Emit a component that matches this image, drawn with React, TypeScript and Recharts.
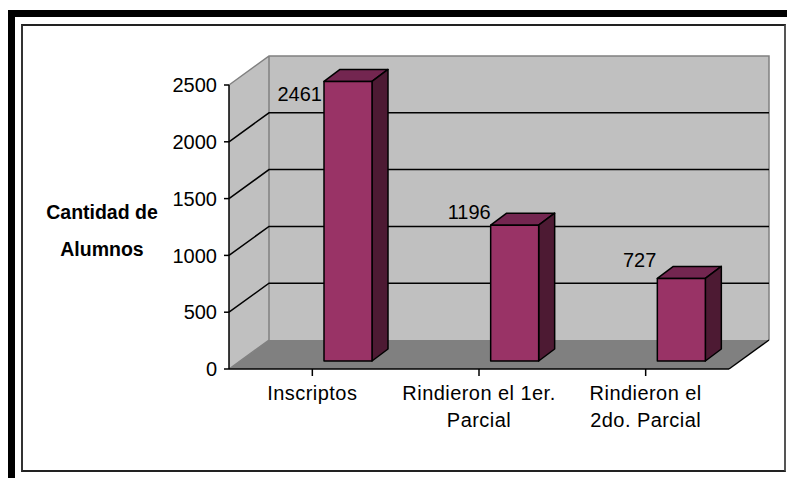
import { Bar, BarChart, CartesianGrid, Customized, LabelList, XAxis, YAxis, usePlotArea } from "recharts";

const CATEGORIES = ["Inscriptos", "Rindieron el 1er.\nParcial", "Rindieron el\n2do. Parcial"];
const ALUMNOS = [2461, 1196, 727];
const Y_TICKS = [0, 500, 1000, 1500, 2000, 2500];

const rows = CATEGORIES.map((name, i) => ({ name, alumnos: ALUMNOS[i] }));

const FONT = "'Liberation Sans', Arial, sans-serif";
const WALL = "#c0c0c0";
const FLOOR = "#808080";
const FRONT = "#993366";
const TOP = "#732650";
const SIDE = "#4d1a33";

// depth of the fake 3D box
const DEPTH_X = 40;
const DEPTH_Y = 29;
// how far the bars sit inside the box, and how deep they are
const BAR_SHIFT_X = 36;
const BAR_SHIFT_Y = 8;
const BAR_DEPTH_X = 16;
const BAR_DEPTH_Y = 12;

// nudges for the value labels, which were hand placed in the original
const LABEL_NUDGE = [
  { dx: 34, dy: 12 },
  { dx: 36, dy: -14 },
  { dx: 35, dy: -19 },
];

function Walls() {
  const plot = usePlotArea();
  if (!plot) return null;
  const { x, y, width, height } = plot;
  const b = y + height;
  const r = x + width;
  return (
    <g>
      <path d={`M${x},${y} L${x + DEPTH_X},${y - DEPTH_Y} V${b - DEPTH_Y} L${x},${b} Z`} fill={WALL} />
      <rect x={x + DEPTH_X} y={y - DEPTH_Y} width={width} height={height} fill={WALL} />
      <path
        d={`M${x},${b} L${x + DEPTH_X},${b - DEPTH_Y} H${r + DEPTH_X} L${r},${b} Z`}
        fill={FLOOR}
      />
      <path
        d={`M${x},${y} L${x + DEPTH_X},${y - DEPTH_Y} H${r + DEPTH_X} V${b - DEPTH_Y} M${x + DEPTH_X},${y - DEPTH_Y} V${b - DEPTH_Y} L${x},${b}`}
        fill="none"
        stroke="#808080"
        strokeWidth={1.5}
      />
      <path d={`M${r + DEPTH_X},${b - DEPTH_Y} L${r},${b}`} fill="none" stroke="#000" strokeWidth={1.5} />
    </g>
  );
}

function GridLine(props: any) {
  const { x1, x2, y1, index } = props;
  // bottom and top ticks are the edges of the box
  if (y1 <= 86 || y1 >= 368) return <g key={index} />;
  return (
    <path
      key={index}
      d={`M${x1},${y1} L${x1 + DEPTH_X},${y1 - DEPTH_Y} H${x2 + DEPTH_X}`}
      fill="none"
      stroke="#000"
      strokeWidth={1.5}
    />
  );
}

function Box3D(props: any) {
  const { x, y, width, height } = props;
  const l = x + BAR_SHIFT_X;
  const t = y - BAR_SHIFT_Y;
  const r = l + width;
  const b = t + height;
  return (
    <g stroke="#000" strokeWidth={1.5} strokeLinejoin="round">
      <path d={`M${l},${t} L${l + BAR_DEPTH_X},${t - BAR_DEPTH_Y} H${r + BAR_DEPTH_X} L${r},${t} Z`} fill={TOP} />
      <path d={`M${r},${t} L${r + BAR_DEPTH_X},${t - BAR_DEPTH_Y} V${b - BAR_DEPTH_Y} L${r},${b} Z`} fill={SIDE} />
      <rect x={l} y={t} width={width} height={height} fill={FRONT} />
    </g>
  );
}

function ValueLabel(props: any) {
  const { x, y, value, index } = props;
  const nudge = LABEL_NUDGE[index];
  return (
    <text x={x + nudge.dx} y={y + nudge.dy} textAnchor="end" fontSize={20} fontFamily={FONT} fill="#000">
      {value}
    </text>
  );
}

function CategoryTick(props: any) {
  const { x, y, payload } = props;
  const lines = String(payload.value).split("\n");
  return (
    <text x={x} textAnchor="middle" fontSize={20} letterSpacing={0.45} fontFamily={FONT} fill="#000">
      {lines.map((line, i) => (
        <tspan key={i} x={x} y={y + 22 + i * 27}>
          {line}
        </tspan>
      ))}
    </text>
  );
}

function Frame() {
  const base = { position: "absolute", boxSizing: "border-box" } as const;
  return (
    <>
      <div style={{ ...base, left: 8, top: 10, width: 779, height: 7, background: "#000" }} />
      <div style={{ ...base, left: 8, top: 10, width: 7, height: 468, background: "#000" }} />
      <div
        style={{
          ...base,
          left: 21,
          top: 24,
          width: 765,
          height: 448,
          borderTop: "2px solid #222",
          borderLeft: "2px solid #333",
          borderBottom: "2px solid #222",
          borderRight: "2px solid #555",
        }}
      />
    </>
  );
}

export default function App() {
  return (
    <div style={{ position: "absolute", left: 0, top: 0, width: 787, height: 478, background: "#fff", overflow: "hidden" }}>
      <Frame />
      <div
        style={{
          position: "absolute",
          left: 37,
          top: 194,
          width: 130,
          textAlign: "center",
          fontFamily: FONT,
          fontWeight: "bold",
          fontSize: 19.5,
          lineHeight: "37px",
          color: "#000",
        }}
      >
        Cantidad de Alumnos
      </div>
      <BarChart
        width={787}
        height={478}
        data={rows}
        margin={{ top: 85, right: 58, bottom: 0, left: 0 }}
        barSize={48}
        style={{ position: "absolute", left: 0, top: 0 }}
      >
        <Customized component={Walls} />
        <CartesianGrid vertical={false} horizontal={GridLine} zIndex={50} />
        <XAxis
          dataKey="name"
          interval={0}
          height={109}
          tick={CategoryTick}
          tickLine={{ stroke: "#000", strokeWidth: 1.5 }}
          tickSize={7}
          axisLine={{ stroke: "#000", strokeWidth: 1.5 }}
        />
        <YAxis
          domain={[0, 2500]}
          ticks={Y_TICKS}
          width={229}
          tick={{ fontSize: 20, fontFamily: FONT, fill: "#000" }}
          tickLine={{ stroke: "#000", strokeWidth: 1.5 }}
          tickSize={5}
          tickMargin={7}
          axisLine={{ stroke: "#000", strokeWidth: 1.5 }}
        />
        <Bar dataKey="alumnos" shape={Box3D} isAnimationActive={false}>
          <LabelList dataKey="alumnos" content={ValueLabel} />
        </Bar>
      </BarChart>
    </div>
  );
}
